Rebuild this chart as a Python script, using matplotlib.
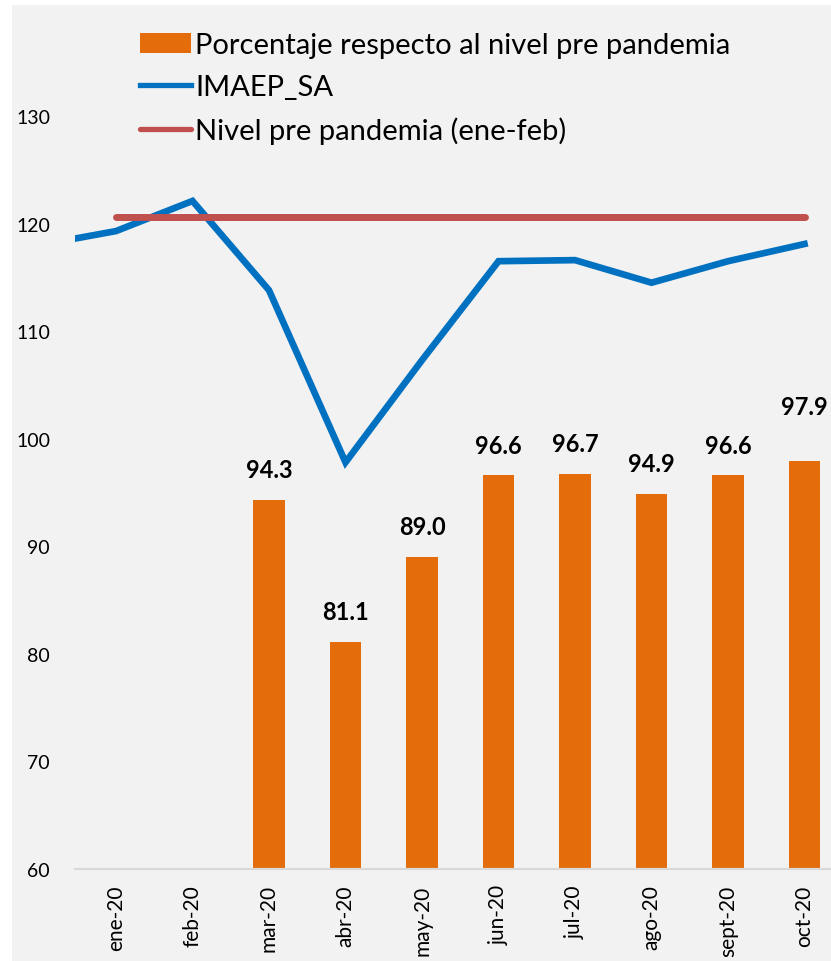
import numpy as np
import matplotlib
matplotlib.use("Agg")
import matplotlib.pyplot as plt
from matplotlib.patches import Rectangle

# data
months = ['ene-20', 'feb-20', 'mar-20', 'abr-20', 'may-20',
          'jun-20', 'jul-20', 'ago-20', 'sept-20', 'oct-20']
imaep_dic19 = 118.0  # previous month, only its segment shows at the left edge
imaep = [119.3, 122.1, 113.8, 97.8, 107.3, 116.5, 116.6, 114.5, 116.5, 118.1]
pct_pre = [np.nan, np.nan, 94.3, 81.1, 89.0, 96.6, 96.7, 94.9, 96.6, 97.9]
pre_level = 120.6

ORANGE = '#E46C0A'
BLUE = '#0070C0'
RED = '#C0504D'
BG = '#F2F2F2'

plt.rcParams['font.family'] = ['Lato', 'DejaVu Sans']

W, H = 831, 962
fig = plt.figure(figsize=(W / 100, H / 100), dpi=100, facecolor='white')
fig.patches.append(Rectangle((12 / W, 0), 1, 1 - 6 / H, transform=fig.transFigure,
                             facecolor=BG, edgecolor='none', zorder=-10))

ax = fig.add_axes([75 / W, 1 - 870 / H, 1 - 75 / W, (870 - 6) / H])
ax.set_facecolor('none')

x = np.arange(len(months))

bars = ax.bar(x, pct_pre, width=0.41, color=ORANGE, zorder=2,
              label='Porcentaje respecto al nivel pre pandemia')
line_imaep, = ax.plot(np.r_[-1, x], np.r_[imaep_dic19, imaep], color=BLUE, lw=4.8,
                      solid_joinstyle='miter', zorder=3, label='IMAEP_SA')
line_pre, = ax.plot(x, [pre_level] * len(x), color=RED, lw=5, solid_capstyle='round',
                    zorder=3, label='Nivel pre pandemia (ene-feb)')

# value labels above the bars (the last one sits higher in the original)
extra = [0, 0, 0, 0, 0, 0, 0, 0, 0, 18]
for xi, v, e in zip(x, pct_pre, extra):
    if np.isnan(v):
        continue
    ax.annotate(f'{v:.1f}', (xi, v), xytext=(0, 13.5 + e), textcoords='offset points',
                ha='center', va='bottom', fontsize=17, fontweight='bold', color='black',
                zorder=4)

ax.set_xlim(-(116 - 75) / 76.5, (W - 116) / 76.5)
ax.set_ylim(60, 130 + 111 / 10.76)
ax.set_yticks(range(60, 131, 10))
ax.set_xticks(x)
ax.set_xticklabels(months, rotation=90, ha='center', va='top')

for s in ['top', 'right', 'left']:
    ax.spines[s].set_visible(False)
ax.spines['bottom'].set_color('#D9D9D9')
ax.spines['bottom'].set_linewidth(1.6)
ax.tick_params(axis='y', length=0, pad=18, labelsize=14, labelcolor='black')
ax.tick_params(axis='x', length=0, pad=11, labelsize=15, labelcolor='black')

leg = ax.legend([bars, line_imaep, line_pre],
                ['Porcentaje respecto al nivel pre pandemia', 'IMAEP_SA',
                 'Nivel pre pandemia (ene-feb)'],
                loc='upper left', bbox_to_anchor=(140 / W, 1 - 33 / H),
                bbox_transform=fig.transFigure, frameon=False, fontsize=21,
                handlelength=1.75, handletextpad=0.15, labelspacing=0.56,
                borderpad=0, borderaxespad=0)
for ln in leg.get_lines():
    ln.set_linewidth(3.8)

fig.savefig('out.png', dpi=100, facecolor='white')
